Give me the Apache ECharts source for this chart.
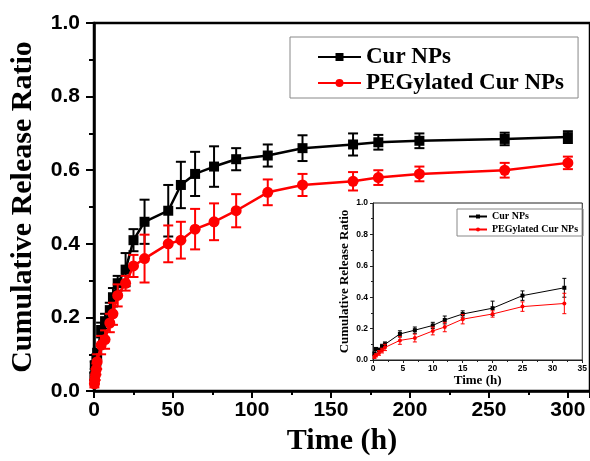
<!DOCTYPE html>
<html>
<head>
<meta charset="utf-8">
<script src="https://cdn.jsdelivr.net/npm/echarts@6/dist/echarts.min.js"></script>
<style>
html,body{margin:0;padding:0;background:#fff;}
#chart{width:590px;height:461px;}
</style>
</head>
<body>
<div id="chart"></div>
<script>
// ---- data ----
var timeH = [0.25, 0.5, 1, 1.5, 2, 4.5, 7, 10, 12, 15, 20, 25, 32, 47, 55, 64, 76, 90, 110, 132, 164, 180, 206, 260, 300];
var curNPs = [0.04, 0.07, 0.065, 0.085, 0.10, 0.166, 0.19, 0.22, 0.255, 0.293, 0.33, 0.41, 0.46, 0.49, 0.56, 0.59, 0.61, 0.63, 0.64, 0.66, 0.67, 0.676, 0.68, 0.685, 0.69];
var curErr = [0.01, 0.01, 0.01, 0.015, 0.015, 0.02, 0.02, 0.02, 0.025, 0.02, 0.045, 0.03, 0.06, 0.07, 0.063, 0.06, 0.055, 0.03, 0.03, 0.035, 0.03, 0.02, 0.02, 0.017, 0.016];
var pegNPs = [0.02, 0.03, 0.045, 0.06, 0.08, 0.125, 0.14, 0.185, 0.21, 0.26, 0.293, 0.34, 0.36, 0.40, 0.41, 0.44, 0.46, 0.49, 0.54, 0.56, 0.57, 0.58, 0.59, 0.60, 0.62];
var pegErr = [0.01, 0.01, 0.015, 0.015, 0.02, 0.025, 0.025, 0.025, 0.03, 0.03, 0.02, 0.03, 0.065, 0.05, 0.05, 0.055, 0.05, 0.045, 0.035, 0.03, 0.025, 0.02, 0.02, 0.02, 0.017];
var insetMaxTime = 32;
var seriesNames = ['Cur NPs', 'PEGylated Cur NPs'];
var xTitle = 'Time (h)';
var yTitle = 'Cumulative Release Ratio';

// ---- build ----
function pts(vals, maxT) {
  var out = [];
  for (var i = 0; i < timeH.length; i++) if (maxT == null || timeH[i] <= maxT) out.push([timeH[i], vals[i]]);
  return out;
}
function errs(vals, e, maxT) {
  var out = [];
  for (var i = 0; i < timeH.length; i++) if (maxT == null || timeH[i] <= maxT) out.push([timeH[i], vals[i] - e[i], vals[i] + e[i]]);
  return out;
}
function errRender(capW, lw, color) {
  return function (params, api) {
    var x = api.value(0), lo = api.value(1), hi = api.value(2);
    var a = api.coord([x, lo]), b = api.coord([x, hi]);
    var st = {stroke: color, lineWidth: lw};
    return {type: 'group', children: [
      {type: 'line', shape: {x1: a[0], y1: a[1], x2: b[0], y2: b[1]}, style: st},
      {type: 'line', shape: {x1: a[0] - capW / 2, y1: a[1], x2: a[0] + capW / 2, y2: a[1]}, style: st},
      {type: 'line', shape: {x1: b[0] - capW / 2, y1: b[1], x2: b[0] + capW / 2, y2: b[1]}, style: st}
    ]};
  };
}
var BLACK = '#000000', RED = '#ff0000';
var serifB = {fontFamily: 'Liberation Serif', fontWeight: 'bold', color: '#000'};
var sansB = {fontFamily: 'Liberation Sans', fontWeight: 'bold', color: '#000'};

var chart = echarts.init(document.getElementById('chart'), null, {renderer: 'canvas'});
chart.setOption({
  animation: false,
  backgroundColor: '#fff',
  grid: [
    {left: 93, right: 0, top: 23, bottom: 67, show: true, borderColor: '#000', borderWidth: 2.5, backgroundColor: 'transparent'},
    {left: 373, right: 3, top: 203, bottom: 101, show: true, borderColor: '#222', borderWidth: 1, backgroundColor: '#fff', z: 10}
  ],
  xAxis: [
    {gridIndex: 0, type: 'value', min: 0, max: 314, interval: 50,
     name: xTitle, nameLocation: 'middle', nameGap: 15,
     nameTextStyle: Object.assign({fontSize: 30}, serifB),
     axisLine: {lineStyle: {color: '#000', width: 2.5}},
     axisTick: {show: true, inside: false, length: 7, lineStyle: {color: '#000', width: 2}},
     minorTick: {show: true, splitNumber: 2, length: 4, lineStyle: {color: '#000', width: 2}},
     axisLabel: Object.assign({fontSize: 21, margin: 9, showMaxLabel: false}, sansB),
     splitLine: {show: false}},
    {gridIndex: 1, type: 'value', min: 0, max: 35, interval: 5,
     name: xTitle, nameLocation: 'middle', nameGap: 14,
     nameTextStyle: Object.assign({fontSize: 13}, serifB),
     axisLine: {lineStyle: {color: '#222', width: 1}},
     axisTick: {show: true, length: 3, lineStyle: {color: '#222', width: 1}},
     minorTick: {show: true, splitNumber: 2, length: 2, lineStyle: {color: '#222', width: 1}},
     axisLabel: Object.assign({fontSize: 8.5, margin: 4}, sansB),
     splitLine: {show: false}, z: 11}
  ],
  yAxis: [
    {gridIndex: 0, type: 'value', min: 0, max: 1, interval: 0.2,
     name: yTitle, nameLocation: 'middle', nameGap: 56,
     nameTextStyle: Object.assign({fontSize: 30}, serifB),
     axisLine: {lineStyle: {color: '#000', width: 2.5}},
     axisTick: {show: true, length: 8, lineStyle: {color: '#000', width: 2}},
     minorTick: {show: true, splitNumber: 2, length: 5, lineStyle: {color: '#000', width: 2}},
     axisLabel: Object.assign({fontSize: 21, margin: 14, formatter: function (v) { return v.toFixed(1); }}, sansB),
     splitLine: {show: false}},
    {gridIndex: 1, type: 'value', min: 0, max: 1, interval: 0.2,
     name: yTitle, nameLocation: 'middle', nameGap: 22,
     nameTextStyle: Object.assign({fontSize: 13}, serifB),
     axisLine: {lineStyle: {color: '#222', width: 1}},
     axisTick: {show: true, length: 3, lineStyle: {color: '#222', width: 1}},
     minorTick: {show: true, splitNumber: 2, length: 2, lineStyle: {color: '#222', width: 1}},
     axisLabel: Object.assign({fontSize: 8.5, margin: 5, formatter: function (v) { return v.toFixed(1); }}, sansB),
     splitLine: {show: false}, z: 11}
  ],
  legend: [
    {orient: 'vertical', left: 290, top: 37, width: 287,
     data: seriesNames,
     itemWidth: 43, itemHeight: 10, itemGap: 0,
     padding: [7, 14, 2, 27],
     borderColor: '#888', borderWidth: 1,
     selectedMode: false,
     textStyle: Object.assign({fontSize: 23, lineHeight: 26}, serifB)},
    {orient: 'vertical', left: 457, top: 209,
     data: seriesNames,
     itemWidth: 18, itemHeight: 5, itemGap: 0,
     padding: [1, 5, 0, 11],
     borderColor: '#888', borderWidth: 1,
     selectedMode: false, z: 12,
     textStyle: Object.assign({fontSize: 10, lineHeight: 13}, serifB)}
  ],
  series: [
    {type: 'custom', xAxisIndex: 0, yAxisIndex: 0, renderItem: errRender(10, 2, BLACK), encode: {x: 0, y: [1, 2]}, data: errs(curNPs, curErr), z: 2, silent: true},
    {type: 'line', name: seriesNames[0], xAxisIndex: 0, yAxisIndex: 0, data: pts(curNPs), color: BLACK,
     symbol: 'rect', symbolSize: 10, lineStyle: {width: 2.5, color: BLACK}, itemStyle: {color: BLACK}, z: 3},
    {type: 'custom', xAxisIndex: 0, yAxisIndex: 0, renderItem: errRender(10, 2, RED), encode: {x: 0, y: [1, 2]}, data: errs(pegNPs, pegErr), z: 4, silent: true},
    {type: 'line', name: seriesNames[1], xAxisIndex: 0, yAxisIndex: 0, data: pts(pegNPs), color: RED,
     symbol: 'circle', symbolSize: 11, lineStyle: {width: 2.5, color: RED}, itemStyle: {color: RED}, z: 5},

    {type: 'custom', xAxisIndex: 1, yAxisIndex: 1, renderItem: errRender(4, 1, BLACK), encode: {x: 0, y: [1, 2]}, data: errs(curNPs, curErr, insetMaxTime), z: 12, silent: true},
    {type: 'line', name: seriesNames[0], xAxisIndex: 1, yAxisIndex: 1, data: pts(curNPs, insetMaxTime), color: BLACK,
     symbol: 'rect', symbolSize: 4, lineStyle: {width: 1, color: BLACK}, itemStyle: {color: BLACK}, z: 13},
    {type: 'custom', xAxisIndex: 1, yAxisIndex: 1, renderItem: errRender(4, 1, RED), encode: {x: 0, y: [1, 2]}, data: errs(pegNPs, pegErr, insetMaxTime), z: 14, silent: true},
    {type: 'line', name: seriesNames[1], xAxisIndex: 1, yAxisIndex: 1, data: pts(pegNPs, insetMaxTime), color: RED,
     symbol: 'circle', symbolSize: 4, lineStyle: {width: 1, color: RED}, itemStyle: {color: RED}, z: 15}
  ]
});
</script>
</body>
</html>
